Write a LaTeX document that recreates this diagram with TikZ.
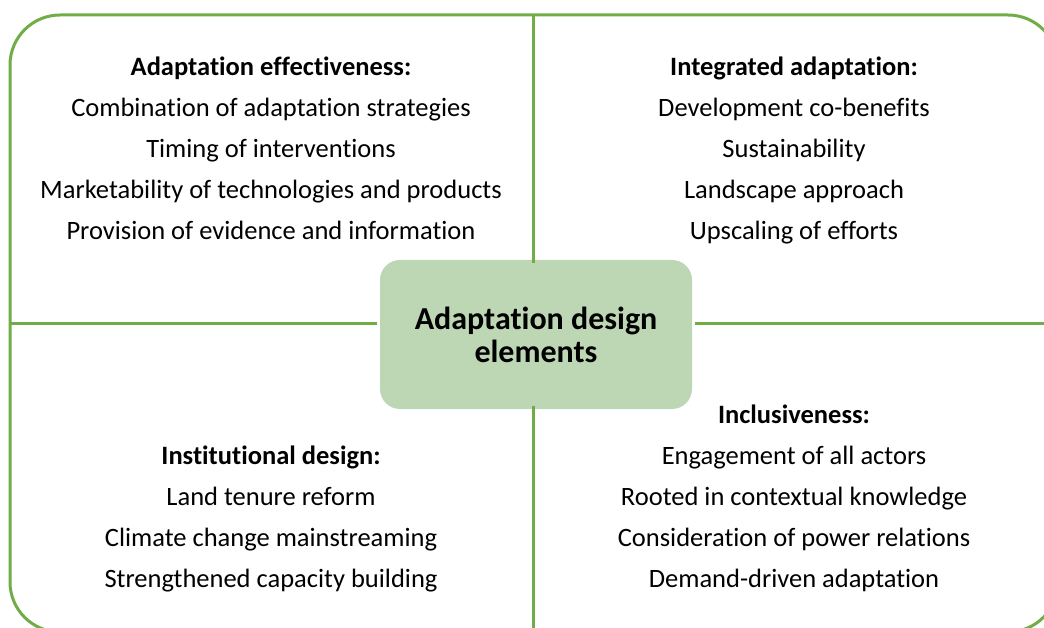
\documentclass[tikz,border=0pt]{standalone}
\usepackage{fontspec}
\setmainfont[Ligatures=NoCommon]{Carlito}
\usepackage{tikz}
\usetikzlibrary{calc,positioning}
\definecolor{leaf}{HTML}{70AD47}
\definecolor{sage}{HTML}{BDD7B4}

\begin{document}
\begin{tikzpicture}
[x=1pt,y=-1pt]

    \tikzstyle{every node}=[inner sep=0pt,font=\fontsize{26.5}{30}\selectfont]
    \tikzstyle{head}=[anchor=base,font=\fontsize{26.5}{30}\selectfont\bfseries]
    \tikzstyle{item}=[anchor=base]
    \tikzstyle{frame}=[draw=leaf,line width=3pt]

    \useasboundingbox (0,0) rectangle (1044,628);

    % outer frame, runs off the right and bottom edges
    \begin{scope}
    \clip (0,0) rectangle (1044,628);
    \draw[frame,rounded corners=50pt] (10,15) rectangle (1058,632);
    \end{scope}

    % the hub in the middle
    \node (hub) [fill=sage,rounded corners=20pt,minimum width=312pt,
                 minimum height=149pt,align=center,
                 font=\fontsize{32}{33}\selectfont\bfseries]
        at (536,334.5) {Adaptation design\\elements};

    \coordinate (ftop) at (533,15);
    \coordinate (fbot) at (533,628);
    \coordinate (fleft) at (10,323);
    \coordinate (fright) at (1044,323);

    \draw[frame] (ftop) -- ([yshift=-3pt]hub.north -| ftop);
    \draw[frame] ([yshift=3pt]hub.south -| ftop) -- (fbot);
    \draw[frame] (fleft) -- ([xshift=-3pt]fleft -| hub.west);
    \draw[frame] ([xshift=3pt]hub.east |- fright) -- (fright);

    % top left
    \node (tlhead) [head] at (271,76) {Adaptation effectiveness:};
    \foreach \txt [count=\i from 0] in {Combination of adaptation strategies,
        Timing of interventions,Marketability of technologies and products,
        Provision of evidence and information}
        \node (tl\i) [item] at (271,{117+41*\i}) {\txt};

    % top right
    \node (trhead) [head] at (794,76) {Integrated adaptation:};
    \foreach \txt [count=\i from 0] in {Development co-benefits,
        Sustainability,Landscape approach,Upscaling of efforts}
        \node (tr\i) [item] at (794,{117+41*\i}) {\txt};

    % bottom left
    \node (blhead) [head] at (271,464) {Institutional design:};
    \foreach \txt [count=\i from 0] in {Land tenure reform,
        Climate change mainstreaming,Strengthened capacity building}
        \node (bl\i) [item] at (271,{505+41*\i}) {\txt};

    % bottom right
    \node (brhead) [head] at (794,423) {Inclusiveness:};
    \foreach \txt [count=\i from 0] in {Engagement of all actors,
        Rooted in contextual knowledge,Consideration of power relations,
        Demand-driven adaptation}
        \node (br\i) [item] at (794,{464+41*\i}) {\txt};

\end{tikzpicture}
\end{document}
